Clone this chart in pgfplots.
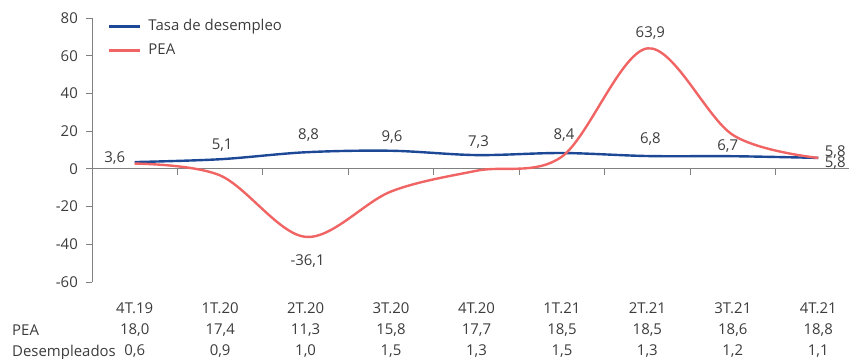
\documentclass[border=0pt]{standalone}
\usepackage{pgfplots}
\pgfplotsset{compat=1.18}
\usepackage{fontspec}
\setmainfont{Open Sans}
\definecolor{blu}{RGB}{28,72,150}
\definecolor{rd}{RGB}{240,100,100}
\definecolor{txt}{RGB}{60,60,60}
\definecolor{axg}{RGB}{128,128,128}
\begin{document}
\fontsize{15}{18}\selectfont
\begin{tikzpicture}[x=1bp,y=1bp]
\path[use as bounding box] (0,0) rectangle (849,358);
\begin{axis}[
  at={(92bp,76bp)}, anchor=south west,
  scale only axis, width=757bp, height=264bp,
  xmin=-0.5, xmax=8.36, ymin=-60, ymax=80,
  clip=false,
  axis y line=left, axis x line=bottom,
  axis line style={-, axg, line width=0.8bp},
  x axis line style={draw=none},
  xtick={0,...,8},
  xticklabels={{4T.19\\[3.5bp]18,0\\[3.5bp]0,6},{1T.20\\[3.5bp]17,4\\[3.5bp]0,9},{2T.20\\[3.5bp]11,3\\[3.5bp]1,0},{3T.20\\[3.5bp]15,8\\[3.5bp]1,5},{4T.20\\[3.5bp]17,7\\[3.5bp]1,3},{1T.21\\[3.5bp]18,5\\[3.5bp]1,5},{2T.21\\[3.5bp]18,5\\[3.5bp]1,3},{3T.21\\[3.5bp]18,6\\[3.5bp]1,2},{4T.21\\[3.5bp]18,8\\[3.5bp]1,1}},
  x tick style={draw=none},
  xticklabel style={align=center, text=txt, font=\fontsize{15}{18}\selectfont, yshift=-9bp},
  ytick={-60,-40,-20,0,20,40,60,80},
  yticklabels={-60,-40,-20,0,20,40,60,80},
  y tick style={axg, line width=0.8bp},
  tick align=outside, major tick length=6bp,
  yticklabel style={text=txt, font=\fontsize{15}{18}\selectfont, xshift=-3bp},
  legend cell align=left,
  legend style={draw=none, fill=none, at={(axis description cs:0.021,0.995)}, anchor=north west, row sep=11bp, inner sep=0pt, text=txt, font=\fontsize{15}{18}\selectfont, nodes={inner xsep=7bp, inner ysep=0pt}},
  legend image code/.code={\draw[#1, line width=2.4bp] (-8bp,0bp) -- (23bp,0bp);},
]
\addplot[axg, line width=0.8bp, forget plot] coordinates {(-0.5,0) (8.36,0)};
\addplot[axg, line width=0.8bp, ycomb, forget plot] coordinates {(0.5,-3) (1.5,-3) (2.5,-3) (3.5,-3) (4.5,-3) (5.5,-3) (6.5,-3) (7.5,-3)};
\addplot[blu, line width=2.4bp, smooth, tension=0.55] coordinates {(0,3.6) (1,5.1) (2,8.8) (3,9.6) (4,7.3) (5,8.4) (6,6.8) (7,6.7) (8,5.8)};
\addlegendentry{Tasa de desempleo}
\addplot[rd, line width=2.4bp, smooth, tension=0.55] coordinates {(0,2.8) (1,-3.5) (2,-36.1) (3,-12) (4,-1) (5,6.5) (6,63.9) (7,18) (8,5.8)};
\addlegendentry{PEA}
\begin{scope}[every node/.style={text=txt, inner sep=0pt, font=\fontsize{15}{18}\selectfont}]
\node[xshift=-20bp, yshift=4bp] at (axis cs:0,3.6) {3,6};
\node[xshift=2bp, yshift=14bp] at (axis cs:1,5.1) {5,1};
\node[xshift=3bp, yshift=17bp] at (axis cs:2,8.8) {8,8};
\node[xshift=1bp, yshift=14bp] at (axis cs:3,9.6) {9,6};
\node[xshift=2bp, yshift=13bp] at (axis cs:4,7.3) {7,3};
\node[xshift=2bp, yshift=18bp] at (axis cs:5,8.4) {8,4};
\node[xshift=3bp, yshift=17bp] at (axis cs:6,6.8) {6,8};
\node[xshift=-5bp, yshift=10bp] at (axis cs:7,6.7) {6,7};
\node[xshift=3bp, yshift=15bp] at (axis cs:6,63.9) {63,9};
\node[xshift=2bp, yshift=-24bp] at (axis cs:2,-36.1) {-36,1};
\node[xshift=17bp, yshift=6bp] at (axis cs:8,5.8) {5,8};
\node[xshift=17bp, yshift=-5bp] at (axis cs:8,5.8) {5,8};
\end{scope}
\end{axis}
\node[anchor=base west, inner sep=0pt, text=txt] at (12,23) {PEA};
\node[anchor=base west, inner sep=0pt, text=txt] at (12,2) {Desempleados};
\end{tikzpicture}
\end{document}
